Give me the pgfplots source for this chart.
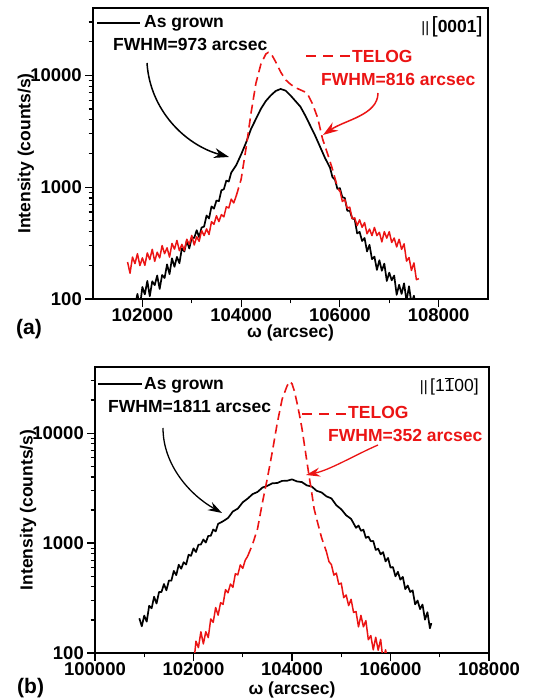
\documentclass[border=0pt]{standalone}
\usepackage{fontspec}
\setmainfont{Liberation Sans}
\usepackage{pgfplots}
\pgfplotsset{compat=1.18}
\usetikzlibrary{arrows.meta}
\definecolor{myred}{RGB}{235,20,20}
\newcommand{\lab}{\fontsize{17.5}{20}\selectfont\bfseries}
\newcommand{\tlab}{\fontsize{18.5}{20}\selectfont\bfseries}
\tikzset{black line/.style={black, line width=1.7pt, line join=round},
  red solid/.style={myred, line width=1.5pt, line join=round},
  red dash/.style={myred, line width=1.6pt, dash pattern=on 9pt off 5pt}}
\begin{document}
\begin{tikzpicture}
\useasboundingbox (0pt,0pt) rectangle (548pt,700pt);

% ---------------- (a) ----------------
\begin{axis}[scale only axis, anchor=south west, at={(93pt,401pt)}, width=395pt, height=291pt,
  ymode=log, ymin=100, ymax=40000,
  ytick={100,1000,10000}, yticklabels={100,1000,10000},
  minor ytick={200,300,400,500,600,700,800,900,2000,3000,4000,5000,6000,7000,8000,9000,20000,30000},
  tick align=outside, xtick pos=bottom, ytick pos=left,
  major tick length=8pt, minor tick length=4.5pt,
  axis line style={line width=1.5pt},
  every tick/.append style={line width=1.2pt, black},
  tick label style={font=\tlab, inner sep=1pt},
  yticklabel style={xshift=-2pt},
  /pgf/number format/assume math mode=true,
  scaled x ticks=false,
  xlabel={ω (arcsec)}, ylabel={Intensity (counts/s)},
  xlabel style={at={(axis description cs:0.5,-0.117)}, anchor=center, font=\lab, inner sep=0pt},
  ylabel style={at={(axis description cs:-0.17,0.5)}, anchor=center, font=\lab, inner sep=0pt},
  xmin=101000, xmax=109000,
  xtick={102000,104000,106000,108000}, xticklabels={102000,104000,106000,108000},
  minor xtick={103000,105000,107000}]
\addplot[black line] coordinates {
(101850,87)(101900,111)(101950,85)(102000,128)(102050,110)(102100,145)(102150,106)(102200,144)
(102250,133)(102300,162)(102350,123)(102400,164)(102450,154)(102500,204)(102550,167)(102600,231)
(102650,194)(102700,238)(102750,209)(102800,284)(102850,266)(102900,333)(102950,283)(103000,354)
(103050,351)(103100,412)(103150,357)(103200,436)(103250,444)(103300,558)(103350,525)(103400,672)
(103450,642)(103500,759)(103550,750)(103600,937)(103650,957)(103700,1144)(103750,1123)(103800,1349)
(103900,1570)(104000,1960)(104100,2500)(104200,3311)(104300,4074)(104400,5012)(104500,5888)(104600,6607)
(104700,7244)(104800,7550)(104900,7300)(105000,6607)(105100,5888)(105200,5248)(105300,4365)(105400,3548)
(105500,2884)(105600,2291)(105700,1820)
(105800,1496)(105850,1227)(105900,1170)(105950,965)(106000,980)(106050,813)(106100,801)(106150,616)
(106200,616)(106250,526)(106300,517)(106350,386)(106400,398)(106450,330)(106500,351)(106550,266)
(106600,305)(106650,227)(106700,239)(106750,182)(106800,222)(106850,179)(106900,207)(106950,145)
(107000,172)(107050,147)(107100,162)(107150,109)(107200,134)(107250,111)(107300,138)(107350,96)
(107400,130)(107450,91)(107500,107)(107550,76)};
\addplot[red solid] coordinates {
(101700,214)(101750,170)(101800,237)(101850,207)(101900,254)(101950,199)(102000,233)(102050,200)
(102100,258)(102150,225)(102200,278)(102250,217)(102300,262)(102350,233)(102400,300)(102450,254)
(102500,287)(102550,237)(102600,314)(102650,279)(102700,334)(102750,270)(102800,308)(102850,272)
(102900,342)(102950,307)(103000,370)(103050,304)(103100,360)(103150,328)(103200,409)(103250,369)
(103300,423)(103350,377)(103400,491)(103450,465)(103500,555)(103550,492)(103600,568)(103650,543)
(103700,667)(103750,651)(103800,782)(103850,723)(103900,832)};
\addplot[red dash] coordinates {
(103900,832)(104000,1175)(104100,2239)(104200,4571)(104300,8511)(104400,12589)(104500,15488)(104550,16032)
(104600,15849)(104700,13183)(104800,10715)(104900,9120)(105000,8318)(105100,7762)(105200,7413)(105300,7079)
(105350,6761)(105450,5495)(105550,4169)(105650,2692)(105750,1995)(105850,1445)(105950,1000)(106000,912)};
\addplot[red solid] coordinates {
(106000,941)(106050,745)(106100,776)(106150,649)(106200,662)(106250,522)(106300,531)(106350,453)
(106400,511)(106450,437)(106500,482)(106550,383)(106600,422)(106650,369)(106700,436)(106750,369)
(106800,395)(106850,324)(106900,400)(106950,350)(107000,400)(107050,320)(107100,351)(107150,292)
(107200,342)(107250,278)(107300,311)(107350,218)(107400,235)(107450,180)(107500,210)(107550,149)(107600,152)};
\end{axis}

% ---------------- (b) ----------------
\begin{axis}[scale only axis, anchor=south west, at={(95pt,47pt)}, width=394pt, height=286pt,
  ymode=log, ymin=100, ymax=40000,
  ytick={100,1000,10000}, yticklabels={100,1000,10000},
  minor ytick={200,300,400,500,600,700,800,900,2000,3000,4000,5000,6000,7000,8000,9000,20000,30000},
  tick align=outside, xtick pos=bottom, ytick pos=left,
  major tick length=8pt, minor tick length=4.5pt,
  axis line style={line width=1.5pt},
  every tick/.append style={line width=1.2pt, black},
  tick label style={font=\tlab, inner sep=1pt},
  yticklabel style={xshift=-2pt},
  /pgf/number format/assume math mode=true,
  scaled x ticks=false,
  xlabel={ω (arcsec)}, ylabel={Intensity (counts/s)},
  xlabel style={at={(axis description cs:0.5,-0.129)}, anchor=center, font=\lab, inner sep=0pt},
  ylabel style={at={(axis description cs:-0.17,0.5)}, anchor=center, font=\lab, inner sep=0pt},
  xmin=100000, xmax=108000,
  xtick={100000,102000,104000,106000,108000}, xticklabels={100000,102000,104000,106000,108000},
  minor xtick={101000,103000,105000,107000}]
\addplot[black line] coordinates {
(100900,207)(100950,175)(101000,219)(101050,193)(101100,269)(101150,255)(101200,325)(101250,282)
(101300,359)(101350,359)(101400,424)(101450,372)(101500,456)(101550,455)(101600,558)(101650,511)
(101700,635)(101750,584)(101800,670)(101850,638)(101900,783)(101950,766)(102000,895)(102050,829)
(102100,967)(102150,970)(102200,1079)(102250,1011)(102300,1163)(102350,1164)(102400,1329)(102450,1278)
(102500,1496)
(102600,1580)(102700,1690)(102800,1940)(102900,2060)(103000,2350)(103100,2540)(103200,2790)
(103300,2920)(103400,3200)(103500,3320)(103600,3500)(103700,3520)(103800,3680)(103900,3690)(104000,3800)
(104100,3640)(104200,3590)(104300,3350)(104400,3270)(104500,2990)(104600,2890)(104700,2660)(104800,2550)
(104900,2210)(105000,2030)(105100,1790)(105200,1660)
(105300,1377)(105350,1445)(105400,1294)(105450,1322)(105500,1115)(105550,1146)(105600,1040)(105650,1044)
(105700,866)(105750,889)(105800,790)(105850,827)(105900,682)(105950,733)(106000,598)(106050,605)
(106100,498)(106150,548)(106200,465)(106250,493)(106300,381)(106350,411)(106400,359)(106450,371)
(106500,277)(106550,300)(106600,251)(106650,276)(106700,201)(106750,235)(106800,168)(106830,187)};
\addplot[red solid] coordinates {
(102000,76)(102050,128)(102100,112)(102150,156)(102200,121)(102250,156)(102300,138)(102350,204)
(102400,190)(102450,259)(102500,221)(102550,287)(102600,277)(102650,377)(102700,353)(102750,424)
(102800,396)(102850,526)(102900,514)(102950,633)(103000,589)(103050,698)(103100,760)};
\addplot[red dash] coordinates {
(103100,760)(103200,977)(103300,1349)(103400,2344)(103500,3890)(103600,6761)(103700,12303)(103800,20417)
(103900,26915)(103950,29512)(104000,28184)(104050,23988)(104100,19055)(104150,14791)(104200,11220)(104250,7943)
(104300,5623)(104350,3981)(104400,2884)(104450,2042)(104500,1660)(104600,1122)(104700,832)};
\addplot[red solid] coordinates {
(104700,832)(104750,679)(104800,637)(104850,511)(104900,533)(104950,422)(105000,432)(105050,319)
(105100,337)(105150,270)(105200,308)(105250,234)(105300,238)(105350,173)(105400,220)(105450,173)
(105500,197)(105550,132)(105600,144)(105650,107)(105700,139)(105750,106)(105800,133)(105850,85)
(105900,107)(105950,81)};
\end{axis}

\begin{scope}[x=1pt,y=1pt]
% ---------------- annotations (a) ----------------
\draw[black, line width=1.3pt] (97,677) -- (140,677);
\node[anchor=base west, inner sep=0] at (144,672) {\lab As grown};
\node[anchor=base west, inner sep=0] at (113,649) {\lab FWHM=973 arcsec};
\node[anchor=base east, inner sep=0] at (483,667) {{\fontsize{15}{15}\selectfont ||\,}{\fontsize{22}{22}\selectfont[}{\lab 0001}{\fontsize{22}{22}\selectfont]}};
\draw[myred, line width=1.6pt, dash pattern=on 10pt off 7pt] (306,644) -- (350,644);
\node[anchor=base west, inner sep=0, text=myred] at (352,637) {\lab TELOG};
\node[anchor=base west, inner sep=0, text=myred] at (321,614) {\lab FWHM=816 arcsec};
\draw[black, line width=1.5pt, -{Stealth[length=15pt,width=10pt]}] (147,637) .. controls (150,590) and (185,555) .. (229,543);
\draw[myred, line width=1.5pt, -{Stealth[length=15pt,width=10pt]}] (378,607) .. controls (378,585) and (345,580) .. (323,565);
\node[anchor=base west, inner sep=0] at (16,365) {\fontsize{21}{22}\selectfont\bfseries (a)};

% ---------------- annotations (b) ----------------
\draw[black, line width=1.3pt] (98,316) -- (142,316);
\node[anchor=base west, inner sep=0] at (144,310) {\lab As grown};
\node[anchor=base west, inner sep=0] at (108,287) {\lab FWHM=1811 arcsec};
\node[anchor=base east, inner sep=0] at (479,308) {{\fontsize{15}{15}\selectfont ||\,}{\fontsize{17.5}{20}\selectfont [1$\overline{\mbox{1}}$00]}};
\draw[myred, line width=1.6pt, dash pattern=on 10pt off 7pt] (302,286) -- (347,286);
\node[anchor=base west, inner sep=0, text=myred] at (348,281) {\lab TELOG};
\node[anchor=base west, inner sep=0, text=myred] at (328,258) {\lab FWHM=352 arcsec};
\draw[black, line width=1.3pt, -{Stealth[length=14pt,width=9pt]}] (163,272) .. controls (163,235) and (190,205) .. (222,187);
\draw[myred, line width=1.3pt, -{Stealth[length=14pt,width=9pt]}] (378,255) .. controls (355,245) and (330,230) .. (306,225);
\node[anchor=base west, inner sep=0] at (17,6) {\fontsize{21}{22}\selectfont\bfseries (b)};
\end{scope}
\end{tikzpicture}
\end{document}
